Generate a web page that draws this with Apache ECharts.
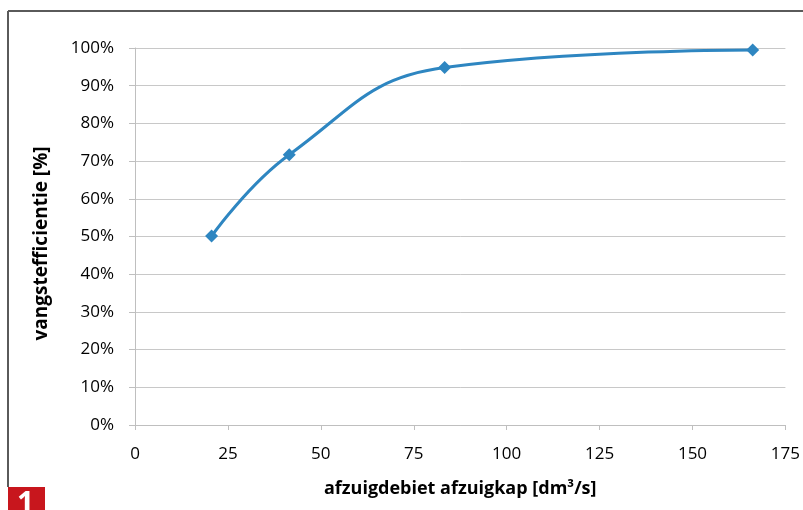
<!DOCTYPE html>
<html><head><meta charset="utf-8">
<script src="https://cdn.jsdelivr.net/npm/echarts@6/dist/echarts.min.js"></script>
<style>html,body{margin:0;padding:0;background:#fff}#c{width:803px;height:510px}</style>
</head><body><div id="c"></div>
<script>
const flowValues = [20.6, 41.5, 83.3, 166.2];
const efficiencyValues = [50.1, 71.7, 94.8, 99.5];
const xTicks = [0, 25, 50, 75, 100, 125, 150, 175];
const yTicks = [0, 10, 20, 30, 40, 50, 60, 70, 80, 90, 100];
const xTitle = 'afzuigdebiet afzuigkap [dm³/s]';
const yTitle = 'vangstefficientie [%]';
const figLabel = '1';

const chart = echarts.init(document.getElementById('c'), null, {renderer: 'canvas'});
const font = '"Open Sans", "Noto Sans", sans-serif';
chart.setOption({
  animation: false,
  grid: {left: 135, right: 15, top: 48, bottom: 85},
  xAxis: {
    type: 'value', min: 0, max: 175, interval: 25,
    name: xTitle, nameLocation: 'middle', nameGap: 55,
    nameTextStyle: {fontFamily: font, fontWeight: 'bold', fontSize: 18, color: '#000'},
    axisLine: {lineStyle: {color: '#bfbfbf'}},
    axisTick: {show: true, length: 5, lineStyle: {color: '#bfbfbf'}},
    axisLabel: {fontFamily: font, fontSize: 17, color: '#000', margin: 21},
    splitLine: {show: false}
  },
  yAxis: {
    type: 'value', min: 0, max: 100, interval: 10,
    name: yTitle, nameLocation: 'middle', nameGap: 84,
    nameTextStyle: {fontFamily: font, fontWeight: 'bold', fontSize: 19, color: '#000', padding: [0, 14, 0, 0]},
    axisLine: {show: true, lineStyle: {color: '#bfbfbf'}},
    axisTick: {show: true, length: 6, lineStyle: {color: '#bfbfbf'}},
    axisLabel: {fontFamily: font, fontSize: 17, color: '#000', margin: 21, formatter: v => v + '%'},
    splitLine: {lineStyle: {color: '#c8c8c8', width: 1}}
  },
  series: [{
    type: 'line',
    data: flowValues.map((x, i) => [x, efficiencyValues[i]]),
    smooth: 0.45,
    symbol: 'diamond', symbolSize: 13,
    lineStyle: {color: '#2e86c1', width: 3},
    itemStyle: {color: '#2e86c1'}
  }],
  graphic: [
    {type: 'line', shape: {x1: 8, y1: 11, x2: 803, y2: 11}, style: {stroke: '#5a5a5a', lineWidth: 2}},
    {type: 'line', shape: {x1: 8, y1: 11, x2: 8, y2: 487}, style: {stroke: '#5a5a5a', lineWidth: 2}},
    {type: 'rect', shape: {x: 8, y: 487, width: 37, height: 23}, style: {fill: '#c8161d'}},
    {type: 'text', left: 17, top: 489, style: {text: figLabel, fill: '#fff', font: 'bold 30px "Open Sans", sans-serif'}}
  ]
});
</script></body></html>
